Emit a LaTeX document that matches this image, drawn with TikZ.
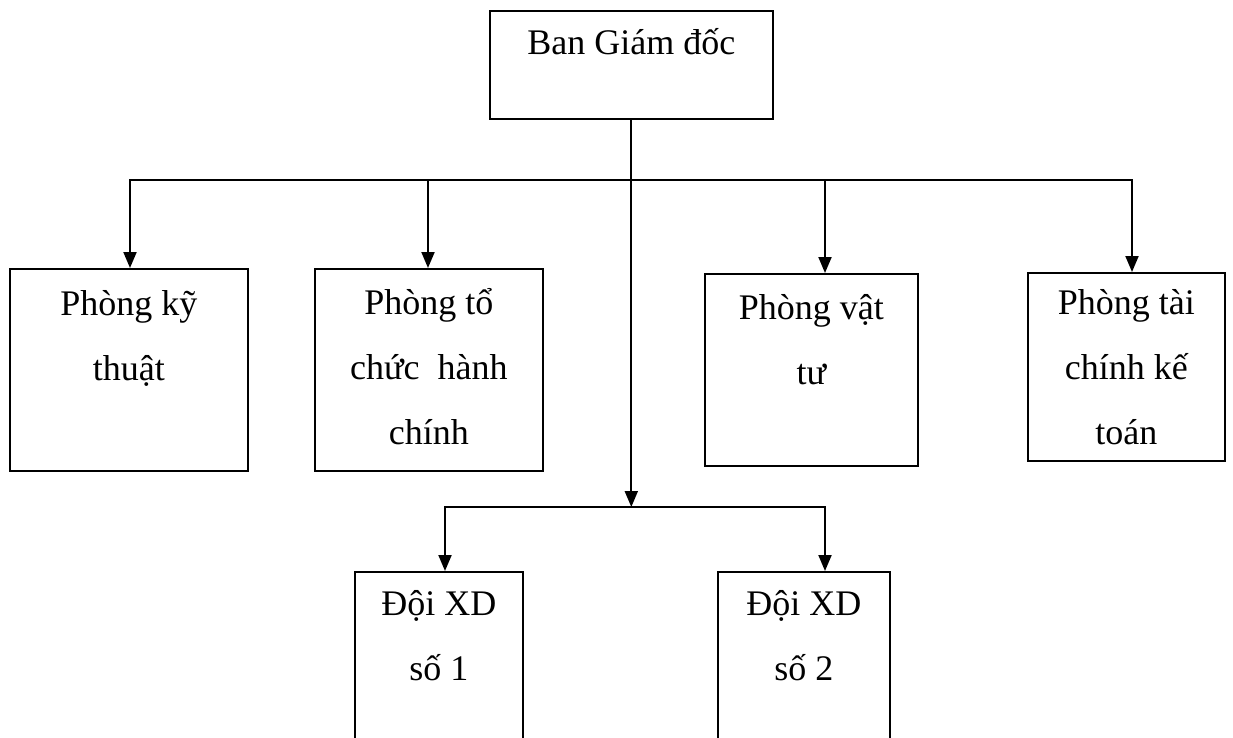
\documentclass[tikz,border=0pt]{standalone}
\usepackage{fontspec}
\setmainfont{Liberation Serif}
\usetikzlibrary{arrows.meta,positioning}

\tikzset{
  box/.style={draw, line width=1.6pt, anchor=north west, inner sep=0pt},
  txt/.style={anchor=base, align=center, inner sep=0pt, font=\fontsize{36}{65}\selectfont},
  conn/.style={line width=2pt, line cap=rect},
  arr/.style={line width=2pt, -{Triangle[length=16pt,width=13pt]}}
}

\begin{document}
\begin{tikzpicture}[x=1pt,y=-1pt]
\useasboundingbox (0,0) rectangle (1233,738);
\begin{scope}
\clip (0,0) rectangle (1233,738);

% boxes
\node[box, minimum width=283pt, minimum height=108pt] (bgd) at (489,10) {};
\node[box, minimum width=238pt, minimum height=202pt] (kt) at (9,268) {};
\node[box, minimum width=228pt, minimum height=202pt] (tc) at (314,268) {};
\node[box, minimum width=213pt, minimum height=192pt] (vt) at (704,273) {};
\node[box, minimum width=197pt, minimum height=188pt] (tckt) at (1027,272) {};
\node[box, minimum width=168pt, minimum height=180pt] (doi1) at (354,571) {};
\node[box, minimum width=172pt, minimum height=180pt] (doi2) at (717,571) {};

% texts (base = last line, 65pt per line)
\node[txt] (bgdtxt) at ([yshift=-45pt]bgd.north) {Ban Giám đốc};
\node[txt] (kttxt) at ([yshift=-112pt]kt.north) {Phòng kỹ\\thuật};
\node[txt] (tctxt) at ([yshift=-176pt]tc.north) {Phòng tổ\\chức~ hành\\chính};
\node[txt] (vttxt) at ([yshift=-111pt]vt.north) {Phòng vật\\tư};
\node[txt] (tckttxt) at ([yshift=-172pt]tckt.north) {Phòng tài\\chính kế\\toán};
\node[txt] (doi1txt) at ([yshift=-109pt]doi1.north) {Đội XD\\số 1};
\node[txt] (doi2txt) at ([yshift=-109pt]doi2.north) {Đội XD\\số 2};

% connectors
\coordinate (b1) at (130,180);
\coordinate (b2) at (428,180);
\coordinate (b3) at (825,180);
\coordinate (b4) at (1132,180);
\coordinate (split) at (630,507);
\coordinate (d1) at (445,507);
\coordinate (d2) at (825,507);

\draw[conn] (b1) -- (b4);
\draw[arr] (bgd.south) -- (bgd.south |- split);
\draw[arr] (b1) -- (b1 |- kt.north);
\draw[arr] (b2) -- (b2 |- tc.north);
\draw[arr] (b3) -- (b3 |- vt.north);
\draw[arr] (b4) -- (b4 |- tckt.north);

\draw[conn] (d1) -- (d2);
\draw[arr] (d1) -- (d1 |- doi1.north);
\draw[arr] (d2) -- (d2 |- doi2.north);
\end{scope}
\end{tikzpicture}
\end{document}
